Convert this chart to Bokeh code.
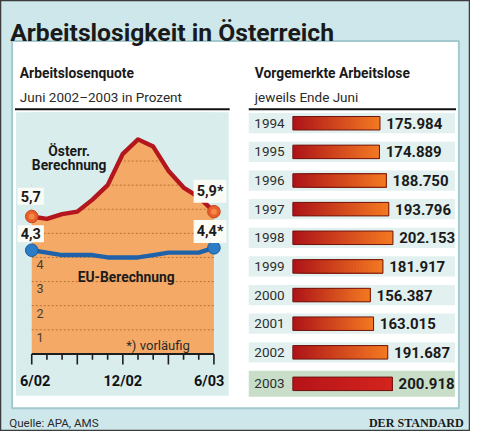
from bokeh.plotting import figure
from bokeh.models import Range1d
from bokeh.core.properties import value
from bokeh.embed import file_html
from bokeh.resources import INLINE

# ---------------- data ----------------
months = ["6/02", "7/02", "8/02", "9/02", "10/02", "11/02", "12/02",
          "1/03", "2/03", "3/03", "4/03", "5/03", "6/03"]
austria_rate = [5.7, 5.6, 5.8, 5.9, 6.4, 7.0, 8.3, 8.9, 8.6, 7.6, 6.9, 6.5, 5.9]
eu_rate = [4.3, 4.2, 4.1, 4.1, 4.1, 4.0, 4.0, 4.0, 4.1, 4.2, 4.2, 4.2, 4.4]
last_is_preliminary = True
month_tick_labels = ["6/02", "12/02", "6/03"]
pct_label_levels = [1, 2, 3, 4]
grid_levels = [1, 2, 3, 4, 5, 6, 7, 8]

years = ["1994", "1995", "1996", "1997", "1998", "1999", "2000", "2001", "2002", "2003"]
registered = [175984, 174889, 188750, 193796, 202153, 181917, 156387, 163015, 191687, 200918]
highlight_year = "2003"

# ---------------- layout (reference pixel space) ----------------
W, H = 470, 431
REF_W, REF_H = 486, 447
FS = W / REF_W

M_X0, M_X1 = 32.3, 220.7      # first / last month
P_Y0, P_PPU = 366.5, 25.0     # y of 0 %, px per %
C_X0, C_PPX = 302.3, 51.2 / 100000   # x of 0 persons, px per person
R_Y0, R_PPX = 127.3, 29.7     # first row centre, row pitch
HIGHLIGHT_GAP = 0.1

SANS = value("Roboto")
SERIF = value("Liberation Serif")

OUTER_BG = "#cde7ea"
PANEL_BORDER = "#a3c9cf"
CHART_BG = "#d9eded"
ORANGE = "#f4aa66"
GRID_C = "#b87434"
RED = "#b3171d"
BLUE = "#1f62aa"
BAND = "#e2f0ef"
BAND_HI = "#c8dec9"


def fpx(s):
    return f"{s * FS:.1f}px"


n = len(months)
m_ppx = (M_X1 - M_X0) / (n - 1)

p = figure(width=W, height=H, x_range=Range1d(0, REF_W), y_range=Range1d(REF_H, 0),
           x_axis_type=None, y_axis_type=None, output_backend="svg",
           toolbar_location=None, min_border=0)
p.grid.visible = False
p.background_fill_color = OUTER_BG
p.border_fill_color = OUTER_BG
p.outline_line_color = "#3c3c3c"
p.outline_line_width = 1.5

p.extra_x_ranges = {
    "months": Range1d(-M_X0 / m_ppx, (REF_W - M_X0) / m_ppx),
    "count": Range1d(-C_X0 / C_PPX, (REF_W - C_X0) / C_PPX),
}
p.extra_y_ranges = {
    "pct": Range1d((P_Y0 - REF_H) / P_PPU, P_Y0 / P_PPU),
    "rows": Range1d((REF_H - R_Y0) / R_PPX, (0 - R_Y0) / R_PPX),
}


def txt(x, y, s, size, bold=False, align="left", baseline="alphabetic",
        color="#1a1a1a", font=SANS):
    p.text(x=[x], y=[y], text=[s], text_font=font, text_font_size=fpx(size),
           text_font_style="bold" if bold else "normal", text_align=align,
           text_baseline=baseline, text_color=color)


# panel
p.quad(left=[12], right=[474], top=[42], bottom=[423], fill_color="white",
       line_color=PANEL_BORDER, line_width=2)

# titles
txt(10, 33.5, "Arbeitslosigkeit in Österreich", 25.5, bold=True)
txt(20, 75, "Arbeitslosenquote", 14.3, bold=True)
txt(20, 100, "Juni 2002–2003 in Prozent", 14, color="#2a2a2a")
txt(263, 75, "Vorgemerkte Arbeitslose", 14.3, bold=True)
txt(263, 100, "jeweils Ende Juni", 14, color="#2a2a2a")

# rules
p.segment(x0=[15, 256.7], x1=[237, 471], y0=[112.7, 112.7], y1=[112.7, 112.7],
          line_color="#111111", line_width=2)

# ---------------- line chart ----------------
p.quad(left=[16], right=[236], top=[116], bottom=[410], fill_color=CHART_BG, line_color=None)

mx = list(range(n))
top_val = (P_Y0 - 116) / P_PPU
p.varea(x=mx, y1=[0] * n, y2=austria_rate, fill_color=ORANGE,
        x_range_name="months", y_range_name="pct")
p.segment(x0=[0] * len(grid_levels), x1=[n - 1] * len(grid_levels),
          y0=grid_levels, y1=grid_levels, line_color=GRID_C, line_dash="2 2",
          line_width=1, x_range_name="months", y_range_name="pct")
# cover gridlines above the Austrian curve
p.varea(x=mx, y1=austria_rate, y2=[top_val] * n, fill_color=CHART_BG,
        x_range_name="months", y_range_name="pct")

p.text(x=[0] * len(pct_label_levels), y=pct_label_levels,
       text=[str(v) for v in pct_label_levels], x_offset=5 * FS, y_offset=3 * FS,
       text_baseline="top", text_align="left", text_font=SANS,
       text_font_size=fpx(13), text_color="#4a3b2e",
       x_range_name="months", y_range_name="pct")

# axis with ticks
p.segment(x0=[0], x1=[n - 1], y0=[0], y1=[0], line_color="#1e1e1e", line_width=2,
          x_range_name="months", y_range_name="pct")
tick_len = [(11 if i % 3 == 0 else 6) / P_PPU for i in mx]
p.segment(x0=mx, x1=mx, y0=[0] * n, y1=[-t for t in tick_len], line_color="#1e1e1e",
          line_width=1.6, x_range_name="months", y_range_name="pct")
tick_idx = [months.index(m) for m in month_tick_labels]
p.text(x=tick_idx, y=[0] * len(tick_idx), text=month_tick_labels,
       x_offset=[3.5 * FS, 0, -5 * FS], y_offset=29 * FS, text_align="center",
       text_baseline="middle", text_font=SANS, text_font_size=fpx(15),
       text_font_style="bold", text_color="#111111",
       x_range_name="months", y_range_name="pct")

# lines
p.line(mx, eu_rate, line_color=BLUE, line_width=4.5 * FS, line_join="round",
       line_cap="round", x_range_name="months", y_range_name="pct")
p.line(mx, austria_rate, line_color=RED, line_width=4.5 * FS, line_join="round",
       line_cap="round", x_range_name="months", y_range_name="pct")

ends = [0, n - 1]
p.scatter(x=ends, y=[eu_rate[0], eu_rate[-1]], size=13 * FS, fill_color="#2c7cc6",
          line_color="#1a5a9c", line_width=1, x_range_name="months", y_range_name="pct")
p.scatter(x=ends, y=[austria_rate[0], austria_rate[-1]], size=13 * FS,
          fill_color="#e8602a", line_color="#c9441c", line_width=1,
          x_range_name="months", y_range_name="pct")
p.scatter(x=ends, y=[austria_rate[0], austria_rate[-1]], size=6 * FS,
          fill_color="#f38a48", line_color=None,
          x_range_name="months", y_range_name="pct")


def fmt_pct(v, prelim):
    return f"{v:.1f}".replace(".", ",") + ("*" if prelim else "")


for series, dy in ((austria_rate, -21), (eu_rate, -17)):
    p.text(x=ends, y=[series[0], series[-1]],
           text=[fmt_pct(series[0], False), fmt_pct(series[-1], last_is_preliminary)],
           x_offset=[-1 * FS, -4 * FS], y_offset=dy * FS, text_align="center",
           text_baseline="middle", text_font=SANS, text_font_size=fpx(15),
           text_font_style="bold", text_color="#1a1a1a",
           background_fill_color="#fbfbf6", padding=3,
           x_range_name="months", y_range_name="pct")

txt(71, 156, "Österr.", 14.3, bold=True, align="center")
txt(71, 170.5, "Berechnung", 14.3, bold=True, align="center")
txt(130, 286.5, "EU-Berechnung", 14.3, bold=True, align="center")
txt(130, 357.5, "*) vorläufig", 13.5, color="#2a2a2a")

# ---------------- bar chart ----------------
row_pos = [i + (HIGHLIGHT_GAP if yr == highlight_year else 0) for i, yr in enumerate(years)]
is_hi = [yr == highlight_year for yr in years]
p.hbar(y=row_pos, left=256.7, right=470,
       height=[(27 if h else 21) / R_PPX for h in is_hi],
       fill_color=[BAND_HI if h else BAND for h in is_hi], line_color=None,
       y_range_name="rows")


def lerp(c0, c1, t):
    a = [int(c0[i:i + 2], 16) for i in (1, 3, 5)]
    b = [int(c1[i:i + 2], 16) for i in (1, 3, 5)]
    return "#" + "".join(f"{round(x + (y - x) * t):02x}" for x, y in zip(a, b))


# horizontal colour gradient: overlapping slices, each running to the bar end
NSEG = 30
bar_h = 14 / R_PPX
seg_l, seg_r, seg_y, seg_c = [], [], [], []
for k in range(NSEG):
    for v, y, h in zip(registered, row_pos, is_hi):
        c0, c1 = ("#b5141a", "#d4241d") if h else ("#ad1318", "#f47a22")
        seg_l.append(v * k / NSEG)
        seg_r.append(v)
        seg_y.append(y)
        seg_c.append(lerp(c0, c1, (k + 0.5) / NSEG))
p.hbar(y=seg_y, left=seg_l, right=seg_r, height=bar_h, fill_color=seg_c,
       line_color=None, x_range_name="count", y_range_name="rows")
p.hbar(y=row_pos, left=0, right=registered, height=bar_h, fill_color=None,
       line_color="#6e1610", line_width=1, x_range_name="count", y_range_name="rows")

p.text(x=registered, y=row_pos, text=[f"{v:,}".replace(",", ".") for v in registered],
       x_offset=6.5 * FS, text_align="left", text_baseline="middle", text_font=SANS,
       text_font_size=fpx(15.5), text_font_style="bold", text_color="#1a1a1a",
       x_range_name="count", y_range_name="rows")
p.text(x=[0] * len(years), y=row_pos, text=years, x_offset=(262.5 - C_X0) * FS,
       text_align="left", text_baseline="middle", text_font=SANS,
       text_font_size=fpx(14), text_color="#2e2e2e",
       x_range_name="count", y_range_name="rows")

# footer
txt(9, 438, "Quelle: APA, AMS", 12, color="#2a2a2a")
txt(479, 438, "DER STANDARD", 12.5, bold=True, align="right", font=SERIF)

open("out.html", "w").write(file_html(p, INLINE, title="Arbeitslosigkeit in Österreich"))
